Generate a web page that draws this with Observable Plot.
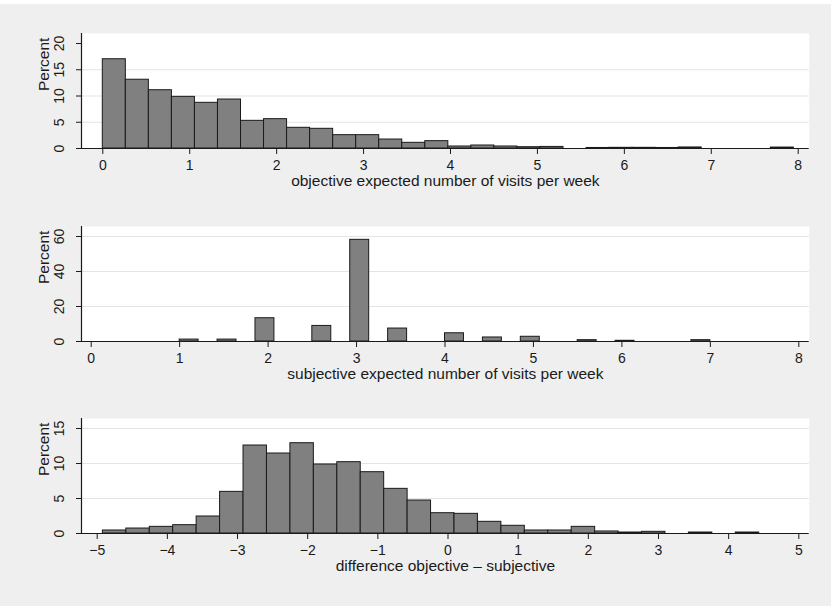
<!DOCTYPE html>
<html>
<head>
<meta charset="utf-8">
<script src="https://cdn.jsdelivr.net/npm/d3@7"></script>
<script src="https://cdn.jsdelivr.net/npm/@observablehq/plot@0.6"></script>
<style>
  body { margin: 0; background: #ffffff; }
  #chart { margin-top: 4px; width: 831px; height: 602px; background: #efefef; overflow: hidden; }
  #chart svg { display: block; }
</style>
</head>
<body>
<div id="chart"></div>
<script>
// ---- Data (percent per histogram bin) ----
const objPct = [17.0, 13.1, 11.1, 9.84, 8.7, 9.33, 5.27, 5.59, 3.94, 3.75, 2.54, 2.54, 1.71, 1.08, 1.4,
                0.38, 0.57, 0.38, 0.25, 0.3, 0, 0.1, 0.13, 0.13, 0.1, 0.2, 0, 0, 0, 0.18];
const objBinStart = 0;
const objBinWidth = 0.265;

const subjPct = [1.1, 0, 1.1, 0, 13.3, 0, 0, 8.9, 0, 58.1, 0, 7.4, 0, 0, 4.7, 0, 2.3, 0, 2.7, 0,
                 0, 0.76, 0, 0.4, 0, 0, 0, 0.76];
const subjBinStart = 1;
const subjBinWidth = 6 / 28;

const diffPct = [0.43, 0.71, 0.95, 1.19, 2.43, 5.95, 12.57, 11.43, 12.9, 9.86, 10.19, 8.76, 6.38, 4.71,
                 2.9, 2.81, 1.67, 1.1, 0.43, 0.43, 0.95, 0.29, 0.14, 0.24, 0, 0.14, 0, 0.14];
const diffBinStart = -4.919;
const diffBinWidth = 0.3341;

const objTicksX = [0, 1, 2, 3, 4, 5, 6, 7, 8];
const subjTicksX = [0, 1, 2, 3, 4, 5, 6, 7, 8];
const diffTicksX = [-5, -4, -3, -2, -1, 0, 1, 2, 3, 4, 5];
const objTicksY = [0, 5, 10, 15, 20];
const subjTicksY = [0, 20, 40, 60];
const diffTicksY = [0, 5, 10, 15];
const objGridY = [5, 10, 15];
const subjGridY = [20, 40, 60];
const diffGridY = [5, 10, 15];

const objTitle = "objective expected number of visits per week";
const subjTitle = "subjective expected number of visits per week";
const diffTitle = "difference objective – subjective";
const yTitle = "Percent";

// ---- Build bins ----
function bins(pcts, start, width) {
  return pcts.map((p, i) => ({x1: start + i * width, x2: start + (i + 1) * width, pct: p}))
             .filter(d => d.pct > 0);
}

const FONT = "'Liberation Sans', Arial, Helvetica, sans-serif";
const INK = "#1a1a1a";

function panel({data, xDomain, yDomain, xTicks, yTicks, gridY, xTitle, height, marginBottom}) {
  return Plot.plot({
    width: 831,
    height,
    marginTop: 29,
    marginBottom,
    marginLeft: 81,
    marginRight: 22.3,
    style: {background: "transparent", fontFamily: FONT, fontSize: "14px", color: INK, overflow: "visible"},
    x: {domain: xDomain},
    y: {domain: yDomain},
    marks: [
      Plot.frame({fill: "white", stroke: "none"}),
      Plot.gridY(gridY, {stroke: "#e4e4e4", strokeOpacity: 1, strokeWidth: 1.2}),
      Plot.rect(data, {x1: "x1", x2: "x2", y1: 0, y2: "pct", fill: "#808080", stroke: INK, strokeWidth: 1}),
      Plot.ruleY([yDomain[0]], {stroke: INK, strokeWidth: 1.2}),
      Plot.ruleX([xDomain[0]], {stroke: INK, strokeWidth: 1.2}),
      Plot.axisX({ticks: xTicks, tickSize: 6, tickPadding: 6, label: null, stroke: INK}),
      Plot.axisY({ticks: yTicks, tickSize: 5, tickPadding: 13, tickRotate: -90, label: null, stroke: INK}),
      Plot.text([xTitle], {text: d => d, frameAnchor: "bottom", dy: 37.5, lineAnchor: "bottom", fontSize: 15.5, fill: INK}),
      Plot.text([yTitle], {text: d => d, frameAnchor: "left", dx: -43.5, rotate: -90, lineAnchor: "top", fontSize: 15.5, fill: INK})
    ]
  });
}

const chart = document.getElementById("chart");
chart.append(panel({
  data: bins(objPct, objBinStart, objBinWidth),
  xDomain: [-0.245, 8.1266], yDomain: [0, 21.905],
  xTicks: objTicksX, yTicks: objTicksY, gridY: objGridY, xTitle: objTitle,
  height: 193, marginBottom: 49
}));
chart.append(panel({
  data: bins(subjPct, subjBinStart, subjBinWidth),
  xDomain: [-0.1097, 8.1176], yDomain: [0, 65.71],
  xTicks: subjTicksX, yTicks: subjTicksY, gridY: subjGridY, xTitle: subjTitle,
  height: 192, marginBottom: 48
}));
chart.append(panel({
  data: bins(diffPct, diffBinStart, diffBinWidth),
  xDomain: [-5.2238, 5.148], yDomain: [0, 16.43],
  xTicks: diffTicksX, yTicks: diffTicksY, gridY: diffGridY, xTitle: diffTitle,
  height: 200, marginBottom: 56
}));
</script>
</body>
</html>
